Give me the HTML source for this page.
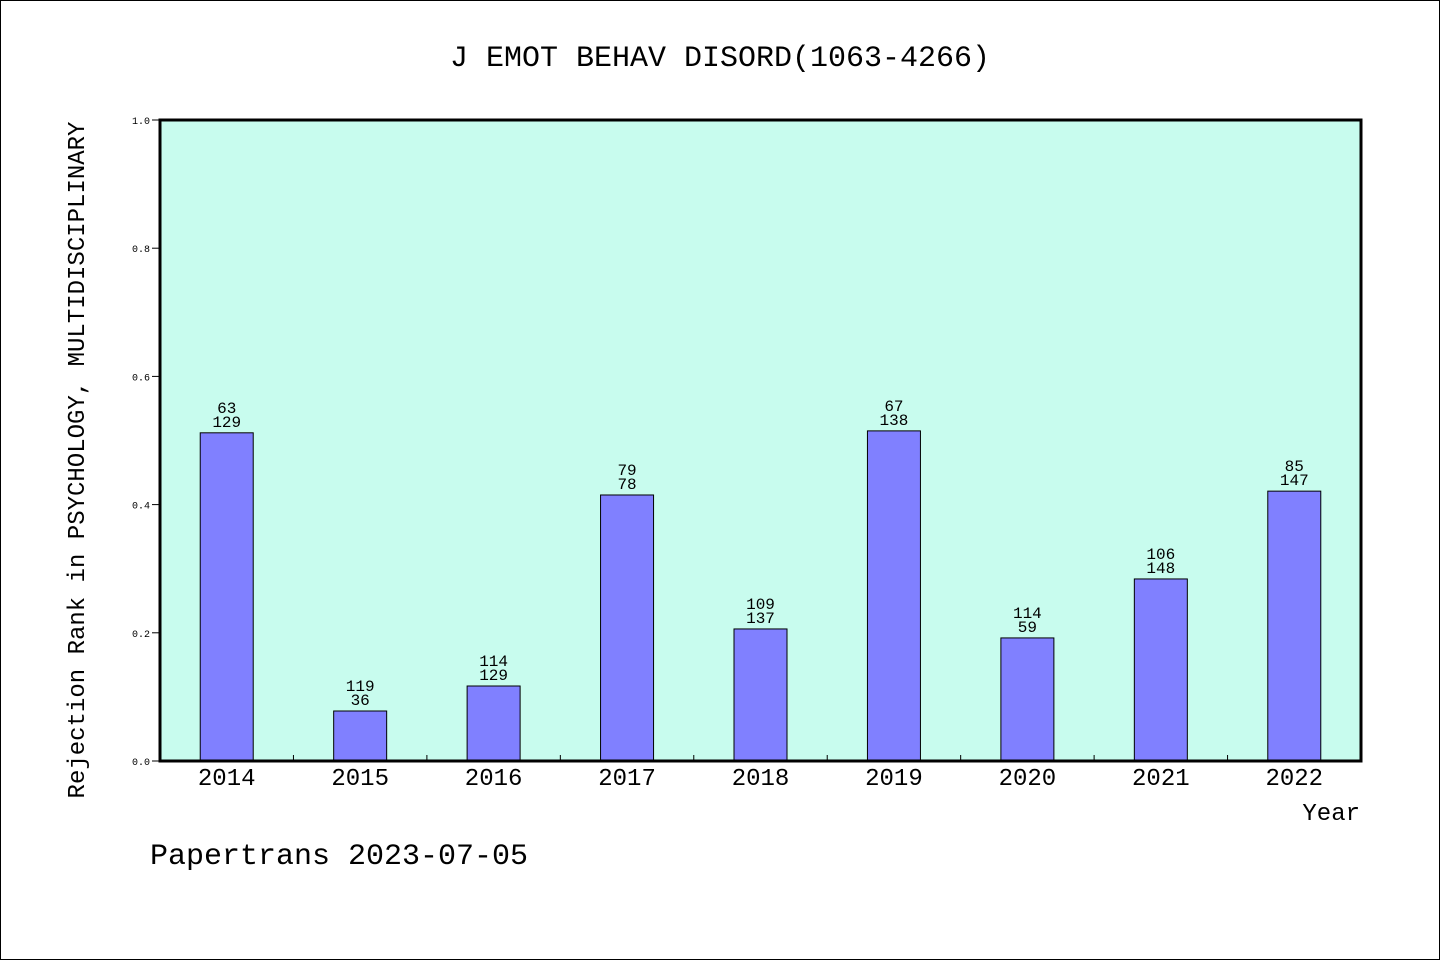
<!DOCTYPE html>
<html><head><meta charset="utf-8"><style>
html,body{margin:0;padding:0;background:#fff}
svg{display:block;font-family:"WenQuanYi Zen Hei","Liberation Mono",sans-serif}
</style></head><body>
<svg id="chart" width="1440" height="960">
<rect x="0.5" y="0.5" width="1439" height="959" fill="#fff" stroke="#000"/>
<text x="720" y="66" font-size="30" text-anchor="middle">J EMOT BEHAV DISORD(1063-4266)</text>
<rect x="160" y="120" width="1201" height="641" fill="#c8fcee"/>
<g id="marks"></g>
<rect x="160" y="120" width="1201" height="641" fill="none" stroke="#000" stroke-width="3"/>
<text transform="translate(84,460) rotate(-90)" font-size="24" text-anchor="middle">Rejection Rank in PSYCHOLOGY, MULTIDISCIPLINARY</text>
<text x="1360" y="820" font-size="24" text-anchor="end">Year</text>
<text x="150" y="864" font-size="30">Papertrans 2023-07-05</text>
</svg>
<script>
const categories=["2014","2015","2016","2017","2018","2019","2020","2021","2022"];
const values=[0.512,0.078,0.117,0.415,0.206,0.515,0.192,0.284,0.421];
const labelTop=["63","119","114","79","109","67","114","106","85"];
const labelBottom=["129","36","129","78","137","138","59","148","147"];
const yTicks=[0,0.2,0.4,0.6,0.8,1.0];
const yTickLabels=["0.0","0.2","0.4","0.6","0.8","1.0"];
const X0=160,W=1201,Y0=761,H=641;
const ns="http://www.w3.org/2000/svg";
const g=document.getElementById('marks');
const step=W/categories.length;
const xc=i=>X0+step*(i+0.5);
const y=v=>Y0-v*H;
function mk(t,a,txt){const e=document.createElementNS(ns,t);for(const k in a)e.setAttribute(k,a[k]);if(txt!==undefined)e.textContent=txt;g.appendChild(e);return e;}
yTicks.forEach((v,i)=>{
 const l=mk('line',{x1:152,x2:160,y1:y(v),y2:y(v),stroke:'#000'});
 
 
 const t=mk('text',{x:150,y:y(v)+4,'font-size':10,'text-anchor':'end'},yTickLabels[i]);
 
 
});
for(let i=1;i<categories.length;i++){
 const l=mk('line',{x1:X0+step*i,x2:X0+step*i,y1:Y0,y2:Y0-6,stroke:'#000'});
 
 
}
categories.forEach((c,i)=>{
 const bw=53;
 const b=mk('rect',{x:xc(i)-bw/2,y:y(values[i]),width:bw,height:Y0-y(values[i]),fill:'#8080ff',stroke:'#000','stroke-width':1});
 
 
 const t1=mk('text',{x:xc(i),y:y(values[i])-20,'font-size':16,'text-anchor':'middle'},labelTop[i]);
 
 
 const t2=mk('text',{x:xc(i),y:y(values[i])-6,'font-size':16,'text-anchor':'middle'},labelBottom[i]);
 
 
 const xl=mk('text',{x:xc(i),y:785,'font-size':24,'text-anchor':'middle'},c);
 
 
});
</script>
</body></html>
